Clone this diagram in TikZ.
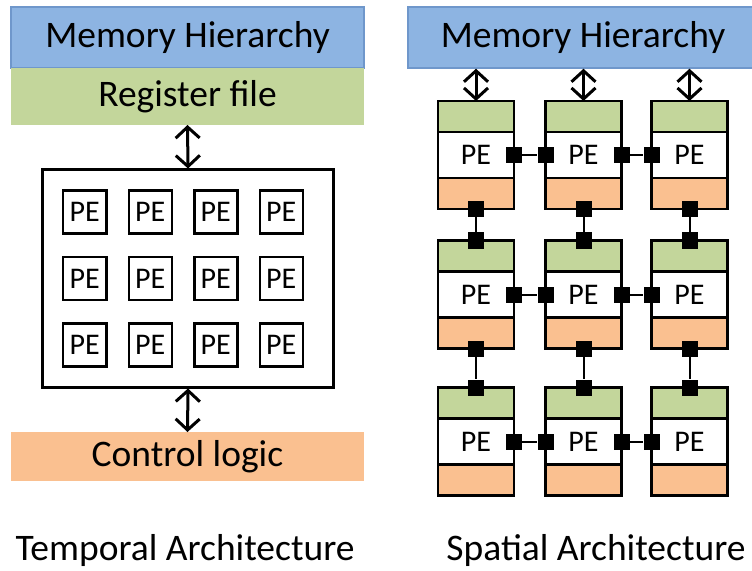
\documentclass[tikz,border=0pt]{standalone}
\usepackage{fontspec}
\setmainfont{Carlito}
\usetikzlibrary{arrows.meta,positioning,matrix}

\definecolor{memblue}{HTML}{8DB4E2}
\definecolor{memedge}{HTML}{6F97CB}
\definecolor{regG}{HTML}{C3D69B}
\definecolor{ctrlO}{HTML}{FAC090}

\begin{document}
\begin{tikzpicture}[x=1bp,y=-1bp,
  big/.style={font=\fontsize{37.5bp}{40bp}\selectfont},
  band/.style={big,minimum width=353bp,inner sep=0pt,outer sep=0pt},
  pe/.style={draw,line width=2.5bp,minimum size=43bp,inner sep=0pt,
             font=\fontsize{30bp}{32bp}\selectfont},
  part/.style={draw,line width=2.5bp,minimum width=76bp,inner sep=0pt,outer sep=0pt},
  body/.style={part,fill=white,minimum height=46bp,font=\fontsize{30bp}{32bp}\selectfont},
  rfpart/.style={part,fill=regG,minimum height=31bp},
  clpart/.style={part,fill=ctrlO,minimum height=31bp},
  port/.style={fill=black,minimum size=16bp,inner sep=0pt},
  link/.style={line width=2bp},
  biarrow/.style={line width=3bp,
    {Straight Barb[length=11bp,width=24bp]}-{Straight Barb[length=11bp,width=24bp]}}]
\useasboundingbox (0,0) rectangle (752,571);

% temporal side
\node (memL) [band,fill=memblue,draw=memedge,line width=1.5bp,minimum height=61bp]
  at (187.5,37.5) {Memory Hierarchy};
\node (regfile) [band,fill=regG,minimum height=57bp] at (187.5,96.5) {Register file};
\node (ctrl) [band,fill=ctrlO,minimum height=49bp] at (187.5,456.5) {Control logic};
\node (array) [draw,line width=3bp,minimum width=290bp,minimum height=217bp]
  at (188,278.5) {};

\matrix(grid) [matrix of nodes,%
            nodes={pe},%
            column sep=20bp,%
            row sep=21bp] at (183,278.5)
{
 PE & PE & PE & PE \\
 PE & PE & PE & PE \\
 PE & PE & PE & PE \\
};

\draw[biarrow] (regfile.south) -- (array.north);
\draw[biarrow] (array.south) -- (ctrl.north);

% spatial side
\node (memR) [big,fill=memblue,draw=memedge,line width=1.5bp,minimum width=346bp,
  minimum height=61bp,inner sep=0pt] at (581,37.5) {\hspace*{4bp}Memory Hierarchy};

\foreach \c/\x in {1/476,2/583.5,3/689.5}
  \foreach \r/\y in {1/155,2/294.5,3/441.5}
  {
    \node (pe\r\c) [body] at (\x,\y) {PE};
    \node (rf\r\c) [rfpart,above=0pt of pe\r\c] {};
    \node (cl\r\c) [clpart,below=0pt of pe\r\c] {};
  }

\foreach \c in {1,2,3}
  \draw[biarrow] (memR.south -| rf1\c.north) -- (rf1\c.north);

% links between neighbours
\foreach \r in {1,2,3}
  \foreach \a/\b in {1/2,2/3}
  {
    \node (e\r\a) [port] at (pe\r\a.east) {};
    \node (w\r\b) [port] at (pe\r\b.west) {};
    \draw[link] (e\r\a) -- (w\r\b);
  }
\foreach \c in {1,2,3}
  \foreach \a/\b in {1/2,2/3}
  {
    \node (s\a\c) [port] at (cl\a\c.south) {};
    \node (n\b\c) [port] at (rf\b\c.north) {};
    \draw[link] (s\a\c) -- (n\b\c);
  }

\node (tA) [big] at (185,550) {Temporal Architecture};
\node (sA) [big] at (596,550) {Spatial Architecture};
\end{tikzpicture}
\end{document}
